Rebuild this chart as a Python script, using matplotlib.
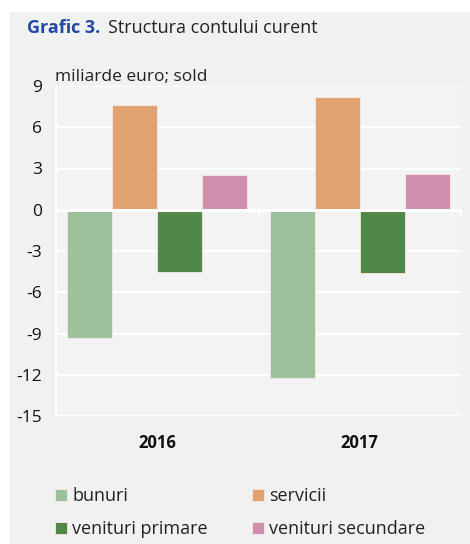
import numpy as np
import matplotlib.pyplot as plt
from matplotlib.patches import Rectangle

years = ['2016', '2017']
series = ['bunuri', 'servicii', 'venituri primare', 'venituri secundare']
bunuri = [-9.3, -12.2]
servicii = [7.6, 8.2]
venituri_primare = [-4.5, -4.6]
venituri_secundare = [2.5, 2.6]
colors = ['#9dc09d', '#e0a273', '#52874a', '#cf8eae']
yticks = [9, 6, 3, 0, -3, -6, -9, -12, -15]

font = ['Open Sans', 'DejaVu Sans']
narrow = ['Liberation Sans Narrow', 'Open Sans', 'DejaVu Sans']
bg = '#f1f1f1'

fig = plt.figure(figsize=(4.7, 5.44), dpi=100, facecolor=bg)
# white strips on the top and left edges
fig.patches.append(Rectangle((0, 0), 10/470, 1, transform=fig.transFigure,
                             facecolor='white', edgecolor='none', zorder=0))
fig.patches.append(Rectangle((0, 532/544), 1, 12/544, transform=fig.transFigure,
                             facecolor='white', edgecolor='none', zorder=0))

ax = fig.add_axes([56/470, 1 - 416/544, 405/470, 330/544])
ax.set_zorder(2)
ax.set_facecolor('#f3f3f3')

x = np.arange(len(years))
w = 0.222
vals = [bunuri, servicii, venituri_primare, venituri_secundare]
for i, (name, v) in enumerate(zip(series, vals)):
    ax.bar(x + (i - 1.5) * w, v, width=w, color=colors[i], edgecolor='#f7e8e0',
           linewidth=0.6, label=name, zorder=3)

ax.set_ylim(-15, 9)
ax.set_xlim(-0.5, 1.5)
ax.set_yticks(yticks)
ax.set_yticklabels([str(t) for t in yticks], family=narrow, fontsize=12.5, color='#111111')
ax.set_xticks(x)
ax.set_xticklabels(years, family=narrow, fontsize=12, fontweight='bold', color='#111111')
ax.tick_params(axis='both', length=0, pad=10)
ax.tick_params(axis='x', pad=13)
ax.grid(axis='y', color='white', linewidth=1.5, zorder=1)
ax.axhline(0, color='white', linewidth=2.2, zorder=4)
for s in ['top', 'right', 'bottom']:
    ax.spines[s].set_visible(False)
ax.spines['left'].set_color('white')
ax.spines['left'].set_linewidth(1.5)
for xt in [0.5, 1.5]:
    ax.plot([xt, xt], [0, -0.35], color='white', linewidth=1.5, zorder=4, clip_on=False)

fig.text(27/470, 1 - 28/544, 'Grafic 3.', family=font, fontsize=13, fontweight='bold',
         color='#1f4aa0', va='center', ha='left')
fig.text(108/470, 1 - 28/544, 'Structura contului curent', family=font, fontsize=13,
         color='#222222', va='center', ha='left')
fig.text(55/470, 1 - 77/544, 'miliarde euro; sold', family=font, fontsize=12.5,
         color='#222222', va='center', ha='left')

handles, labels = ax.get_legend_handles_labels()
order = [0, 2, 1, 3]
leg = fig.legend([handles[i] for i in order], [labels[i] for i in order],
                 loc='upper left', bbox_to_anchor=(39/470, 1 - 471/544),
                 ncol=2, frameon=False, prop={'family': font, 'size': 13},
                 handlelength=0.65, handleheight=0.65, handletextpad=0.3,
                 columnspacing=2.45, labelspacing=0.84, labelcolor='#222222')

fig.savefig('out.png', dpi=100, facecolor=bg)
